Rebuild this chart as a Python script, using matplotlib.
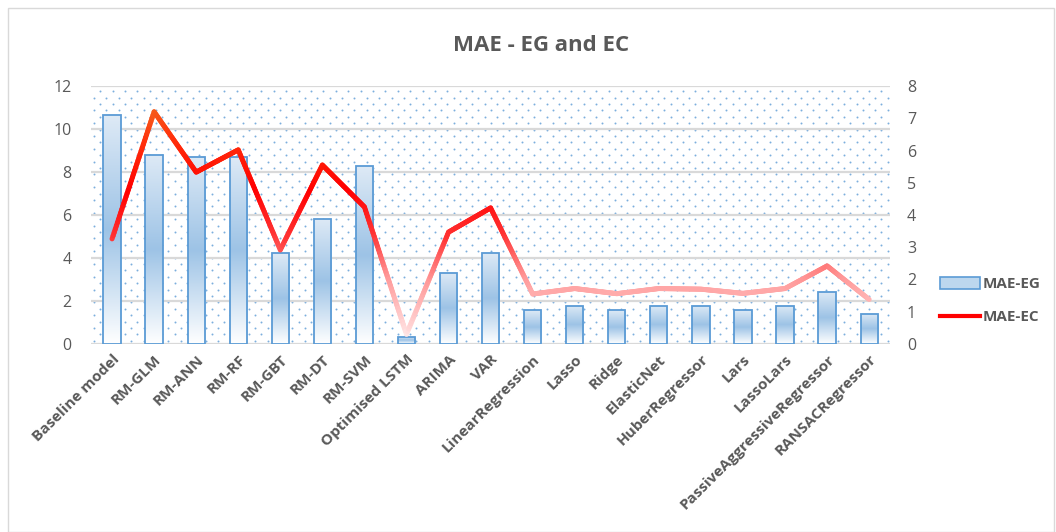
import matplotlib
matplotlib.use("Agg")
import matplotlib.pyplot as plt
import numpy as np
from matplotlib.collections import LineCollection
from matplotlib.colors import LinearSegmentedColormap
from matplotlib.patches import Rectangle
from matplotlib.lines import Line2D

plt.rcParams['font.family'] = ['Open Sans', 'DejaVu Sans']

models = ["Baseline model", "RM-GLM", "RM-ANN", "RM-RF", "RM-GBT", "RM-DT", "RM-SVM",
          "Optimised LSTM", "ARIMA", "VAR", "LinearRegression", "Lasso", "Ridge",
          "ElasticNet", "HuberRegressor", "Lars", "LassoLars",
          "PassiveAggressiveRegressor", "RANSACRegressor"]
mae_eg = [10.65, 8.8, 8.7, 8.7, 4.23, 5.82, 8.28, 0.33, 3.32, 4.25, 1.58, 1.78, 1.58,
          1.78, 1.77, 1.58, 1.78, 2.43, 1.4]
mae_ec = [3.26, 7.2, 5.33, 6.02, 2.92, 5.55, 4.25, 0.3, 3.47, 4.22, 1.55, 1.72, 1.56,
          1.72, 1.7, 1.57, 1.72, 2.42, 1.38]

grey = "#595959"
blue_edge = "#5B9BD5"

W, H = 1056, 532
fig = plt.figure(figsize=(W / 100, H / 100), dpi=100)
fig.patches.append(Rectangle((0.008, 0.0), 0.99, 0.985, transform=fig.transFigure,
                             fill=False, edgecolor="#D9D9D9", lw=1))
ax_box = [0.0862, 0.3534, 0.7568, 0.4849]
ax1 = fig.add_axes(ax_box)
ax2 = ax1.twinx()

x = np.arange(len(models))

# dotted plot-area fill: staggered rows of tiny dots
pw, ph = ax_box[2] * W, ax_box[3] * H
dx, dy = 12.4, 6.4
dots_x, dots_y = [], []
for r, yy in enumerate(np.arange(dy / 2, ph, dy)):
    xs = np.arange(3 + (dx / 2 if r % 2 else 0), pw, dx)
    dots_x.append(xs / pw)
    dots_y.append(np.full(len(xs), yy / ph))
ax1.scatter(np.concatenate(dots_x), np.concatenate(dots_y), s=2.0, color="#5B9BD5",
            alpha=0.8, lw=0, transform=ax1.transAxes, zorder=0)
for v in np.arange(0, 13, 2):
    ax1.axhline(v, color="#D9D9D9", lw=1.6, zorder=0.5)

# bars with a vertical gradient fill
bar_cmap = LinearSegmentedColormap.from_list(
    "barfill", ["#FFFFFF", "#9DC3E6", "#DEEAF6"])
grad = np.linspace(0, 1, 256).reshape(-1, 1)
bars = ax1.bar(x, mae_eg, width=0.41, facecolor="none", edgecolor=blue_edge,
               lw=1.3, zorder=3)
for b in bars:
    x0, y0, w, h = b.get_x(), b.get_y(), b.get_width(), b.get_height()
    im = ax1.imshow(grad, cmap=bar_cmap, extent=(x0, x0 + w, y0, y0 + h),
                    origin="lower", aspect="auto", zorder=2)
    im.set_clip_path(b)
ax1.set_xlim(-0.5, len(models) - 0.5)
ax1.set_ylim(0, 12)
ax2.set_ylim(0, 8)

# line coloured by height: faint pink at the bottom, red in the middle, orange on top
line_cmap = LinearSegmentedColormap.from_list(
    "linefill", [(0.0, (1, 1, 1, 0.3)), (0.06, (1, 0.85, 0.85, 1)),
                 (0.25, (1, 0.6, 0.6, 1)), (0.42, (1, 0.2, 0.2, 1)),
                 (0.6, (1, 0, 0, 1)), (0.8, (1, 0.2, 0.05, 1)),
                 (1.0, (0.93, 0.5, 0.15, 1))])
pts_x, pts_y = [], []
for i in range(len(x) - 1):
    t = np.linspace(0, 1, 40)
    pts_x.append(x[i] + (x[i + 1] - x[i]) * t)
    pts_y.append(mae_ec[i] + (mae_ec[i + 1] - mae_ec[i]) * t)
px = np.concatenate(pts_x)
py = np.concatenate(pts_y)
segs = np.stack([np.column_stack([px[:-1], py[:-1]]),
                 np.column_stack([px[1:], py[1:]])], axis=1)
lc = LineCollection(segs, cmap=line_cmap, norm=plt.Normalize(0, 8), lw=3.6,
                    capstyle="round", joinstyle="round", zorder=4)
lc.set_array((py[:-1] + py[1:]) / 2)
ax2.add_collection(lc)
ax2.set_zorder(ax1.get_zorder() + 1)
ax2.patch.set_visible(False)

for ax in (ax1, ax2):
    for s in ax.spines.values():
        s.set_visible(False)
    ax.tick_params(length=0, labelsize=11.5, labelcolor=grey)

ax1.set_yticks(np.arange(0, 13, 2))
ax2.set_yticks(np.arange(0, 9, 1))
ax1.tick_params(axis="y", pad=14)
ax2.tick_params(axis="y", pad=12)
ax1.set_xticks(x)
ax1.set_xticklabels(models, rotation=45, ha="right", rotation_mode="anchor",
                    fontsize=11, fontweight="bold", color=grey)
ax1.tick_params(axis="x", pad=6)

fig.text(0.512, 0.915, "MAE - EG and EC", ha="center", va="center",
         fontsize=16, fontweight="bold", color=grey)

handles = [Rectangle((0, 0), 1, 1, facecolor="#BDD7EE", edgecolor=blue_edge, lw=1.2),
           Line2D([0], [0], color="#FF0000", lw=3)]
fig.legend(handles, ["MAE-EG", "MAE-EC"], loc="center left",
           bbox_to_anchor=(0.877, 0.435), frameon=False, handlelength=2.6,
           handleheight=0.9, handletextpad=0.2, labelspacing=1.2,
           prop={"weight": "bold", "size": 11}, labelcolor=grey)

fig.savefig("out.png", dpi=100)
